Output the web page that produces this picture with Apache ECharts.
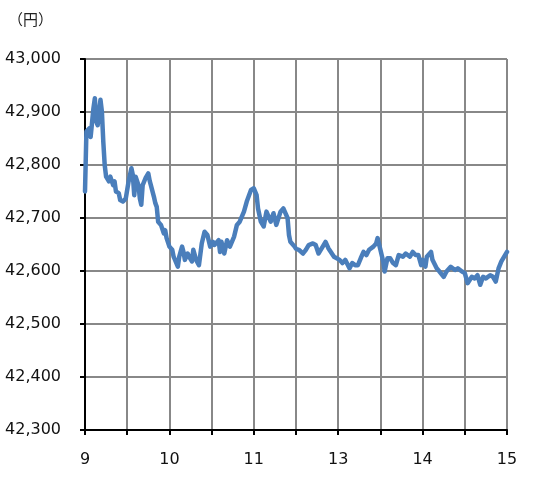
<!DOCTYPE html>
<html>
<head>
<meta charset="utf-8">
<script src="https://cdn.jsdelivr.net/npm/echarts@6/dist/echarts.min.js"></script>
<style>html,body{margin:0;padding:0;background:#fff}#c{width:533px;height:502px}</style>
</head>
<body>
<div id="c"></div>
<script>
// Trading times (morning 9:00-11:30, afternoon 12:30-15:00)
var times = ['9:00','9:01','9:03','9:04','9:06','9:07','9:08','9:09','9:11','9:12','9:13','9:14','9:15','9:17','9:18','9:20','9:21','9:22','9:24','9:25','9:27','9:29','9:30','9:31','9:33','9:34','9:35','9:36','9:38','9:39','9:40','9:41','9:43','9:45','9:46','9:47','9:49','9:50','9:51','9:52','9:54','9:56','9:57','9:58','10:00','10:02','10:03','10:04','10:06','10:07','10:09','10:10','10:11','10:13','10:14','10:16','10:17','10:19','10:21','10:23','10:25','10:27','10:29','10:31','10:32','10:35','10:36','10:37','10:39','10:41','10:43','10:46','10:48','10:50','10:53','10:55','10:58','11:00','11:02','11:03','11:05','11:07','11:09','11:12','11:14','11:16','11:19','11:21','11:24','11:25','11:26','11:29','11:30','12:32','12:35','12:37','12:39','12:42','12:44','12:46','12:49','12:51','12:53','12:57','13:01','13:03','13:05','13:08','13:10','13:12','13:14','13:16','13:18','13:20','13:22','13:25','13:27','13:28','13:30','13:32','13:33','13:35','13:37','13:39','13:41','13:43','13:46','13:48','13:51','13:53','13:55','13:57','13:59','14:00','14:02','14:03','14:06','14:07','14:10','14:12','14:15','14:17','14:20','14:23','14:25','14:28','14:30','14:32','14:35','14:37','14:39','14:41','14:43','14:45','14:48','14:50','14:52','14:54','14:56','14:58','15:00'];
var prices = [42750,42863,42869,42853,42907,42926,42882,42875,42923,42901,42844,42800,42778,42769,42778,42762,42769,42750,42747,42734,42731,42737,42753,42769,42794,42781,42743,42778,42762,42737,42725,42762,42775,42784,42770,42760,42740,42728,42721,42693,42687,42671,42677,42662,42646,42640,42627,42621,42608,42627,42646,42636,42621,42633,42627,42618,42640,42621,42611,42652,42674,42668,42646,42655,42649,42658,42636,42655,42633,42658,42646,42665,42687,42693,42712,42731,42753,42756,42743,42718,42693,42684,42712,42693,42709,42687,42712,42718,42700,42668,42655,42646,42642,42640,42633,42640,42649,42652,42649,42633,42646,42655,42643,42627,42621,42615,42621,42605,42615,42611,42611,42624,42636,42630,42640,42646,42652,42662,42640,42618,42599,42624,42624,42615,42611,42630,42627,42633,42627,42636,42630,42630,42611,42621,42608,42627,42636,42621,42605,42599,42589,42599,42608,42602,42605,42599,42596,42577,42589,42586,42592,42574,42589,42586,42592,42589,42580,42605,42618,42627,42636];
var xTickLabels = ['9','','10','','11','','13','','14','','15'];
var unitLabel = '（円）';

function sessionMinute(t) {
  var p = t.split(':');
  var m = parseInt(p[0], 10) * 60 + parseInt(p[1], 10) - 540;
  if (m >= 210) m -= 60; // skip lunch break
  return m;
}
var seriesData = times.map(function (t, i) { return [sessionMinute(t), prices[i]]; });

var chart = echarts.init(document.getElementById('c'), null, {renderer: 'canvas'});
chart.setOption({
  animation: false,
  backgroundColor: '#ffffff',
  title: {
    text: unitLabel, left: 3, top: 7,
    textStyle: {fontFamily: 'Noto Sans CJK JP', fontSize: 15, fontWeight: 'normal', color: '#222'}
  },
  grid: {left: 85, right: 26, top: 59, bottom: 72, containLabel: false},
  xAxis: {
    type: 'value', min: 0, max: 300, interval: 30,
    axisLine: {show: true, lineStyle: {color: '#000', width: 2}},
    axisTick: {show: true, length: 5, lineStyle: {color: '#000', width: 2}},
    splitLine: {show: true, lineStyle: {color: '#888888', width: 2}},
    axisLabel: {
      margin: 22, fontFamily: 'DejaVu Sans', fontSize: 16, color: '#111',
      formatter: function (v) { return xTickLabels[Math.round(v / 30)] || ''; }
    }
  },
  yAxis: {
    type: 'value', min: 42300, max: 43000, interval: 100,
    axisLine: {show: true, lineStyle: {color: '#000', width: 2}},
    axisTick: {show: true, length: 5, lineStyle: {color: '#000', width: 2}},
    splitLine: {show: true, lineStyle: {color: '#888888', width: 2}},
    axisLabel: {
      margin: 24, fontFamily: 'DejaVu Sans', fontSize: 16, color: '#111',
      formatter: function (v) { return v.toLocaleString('en-US'); }
    }
  },
  series: [{
    type: 'line', data: seriesData, showSymbol: false, symbol: 'none',
    lineStyle: {color: '#4a7ebb', width: 4.5, join: 'round', cap: 'round'}
  }]
});
</script>
</body>
</html>
